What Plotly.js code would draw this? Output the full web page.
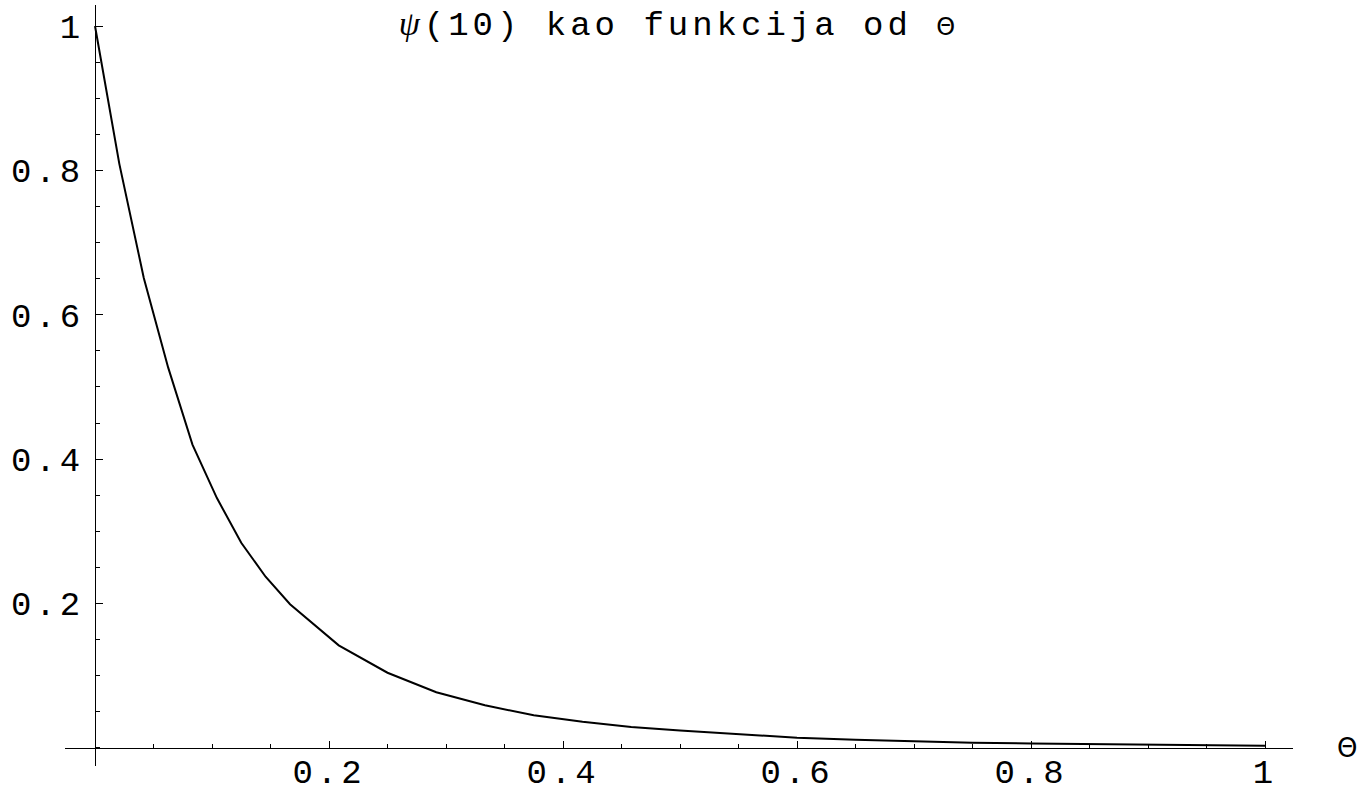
<!DOCTYPE html>
<html>
<head>
<meta charset="utf-8">
<script src="https://cdn.plot.ly/plotly-3.0.1.min.js"></script>
<style>
  html, body { margin: 0; padding: 0; background: #fff; }
  #chart { width: 1366px; height: 794px; }
  .xtick text, .ytick text, .gtitle { letter-spacing: 4px; }
</style>
</head>
<body>
<div id="chart"></div>
<script>
// Θ values (x) and ψ(10) values (y)
const theta = [0, 0.0208, 0.0417, 0.0625, 0.0833, 0.1042, 0.125, 0.1458, 0.1667,
               0.2083, 0.25, 0.2917, 0.3333, 0.375, 0.4167, 0.4583, 0.5,
               0.55, 0.6, 0.65, 0.7, 0.75, 0.8, 0.85, 0.9, 0.95, 1];
const psi = [1, 0.809, 0.651, 0.527, 0.42, 0.346, 0.284, 0.237, 0.199,
             0.142, 0.104, 0.077, 0.059, 0.045, 0.036, 0.029, 0.024,
             0.019, 0.014, 0.011, 0.0085, 0.007, 0.006, 0.005, 0.0043, 0.0036, 0.003];

const xTickVals = [0.2, 0.4, 0.6, 0.8, 1];
const xTickText = ['0.2', '0.4', '0.6', '0.8', '1'];
const yTickVals = [0.2, 0.4, 0.6, 0.8, 1];
const yTickText = ['0.2', '0.4', '0.6', '0.8', '1'];

const titleText = '<span style="font-family:\'Liberation Serif\';font-style:italic">ψ</span>(10) kao funkcija od <span style="font-family:\'DejaVu Sans\';font-size:24px">Θ</span>';
const xLabel = 'Θ';

const font = { family: 'Liberation Mono, Courier New, monospace', size: 34, color: '#000' };

const trace = {
  x: theta, y: psi, type: 'scatter', mode: 'lines',
  line: { color: '#000', width: 2 }, hoverinfo: 'skip'
};

const layout = {
  width: 1366, height: 794,
  margin: { l: 65, r: 73, t: 5, b: 28, pad: 0 },
  paper_bgcolor: '#fff', plot_bgcolor: '#fff',
  showlegend: false,
  font: font,
  title: {
    text: titleText, font: font,
    x: 0.497, xref: 'container', xanchor: 'center',
    y: 1 - 23 / 794, yref: 'container', yanchor: 'middle'
  },
  xaxis: {
    range: [-0.02564, 1.02393], anchor: 'free', position: 0.0239,
    showgrid: false, zeroline: false, showline: true, linecolor: '#000', linewidth: 1,
    tickmode: 'array', tickvals: xTickVals, ticktext: xTickText,
    ticks: 'inside', ticklen: 7, tickwidth: 1, tickcolor: '#000',
    minor: { tickmode: 'linear', tick0: 0, dtick: 0.05, ticks: 'inside', ticklen: 4, tickwidth: 1, tickcolor: '#000', showgrid: false },
    tickfont: font, ticklabelstandoff: -7
  },
  yaxis: {
    range: [-0.0252, 1.0291], anchor: 'free', position: 0.02443,
    showgrid: false, zeroline: false, showline: true, linecolor: '#000', linewidth: 1,
    tickmode: 'array', tickvals: yTickVals, ticktext: yTickText,
    ticks: 'inside', ticklen: 7, tickwidth: 1, tickcolor: '#000',
    minor: { tickmode: 'linear', tick0: 0, dtick: 0.05, ticks: 'inside', ticklen: 4, tickwidth: 1, tickcolor: '#000', showgrid: false },
    tickfont: font, ticklabelstandoff: 4
  },
  annotations: [{
    text: xLabel, xref: 'paper', yref: 'y', x: 1.044, y: 0,
    showarrow: false, xanchor: 'center', yanchor: 'middle',
    font: { family: 'DejaVu Sans', size: 26, color: '#000' }
  }]
};

Plotly.newPlot('chart', [trace], layout, { displayModeBar: false, staticPlot: true });
</script>
</body>
</html>
